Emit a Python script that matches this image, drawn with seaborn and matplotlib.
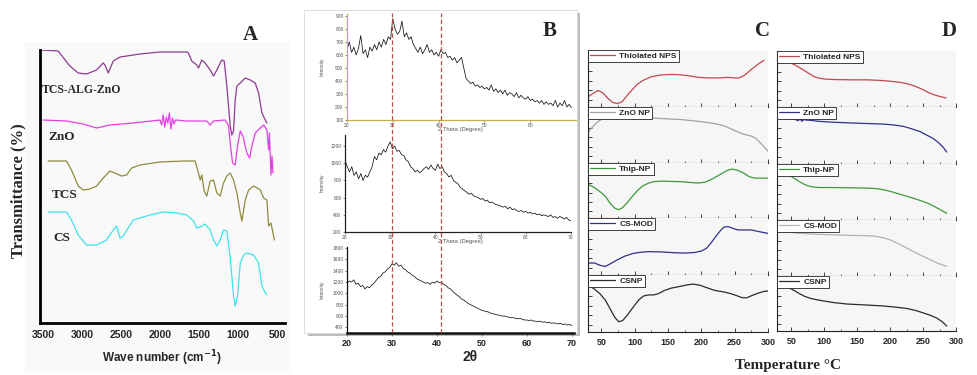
import numpy as np
import matplotlib
matplotlib.use("Agg")
import matplotlib.pyplot as plt
import seaborn as sns
from matplotlib.patches import Rectangle

# ---------------- DATA ----------------
# Panel A: FTIR (wave number cm-1, transmittance a.u. with offsets)
WN_TCS_ALG_ZNO = [3530, 3307, 3157, 3050, 2943, 2814, 2729, 2707, 2664, 2600, 2514, 2257, 2000, 1657, 1636, 1593,
                  1529, 1507, 1464, 1421, 1357, 1314, 1271, 1229, 1207, 1177, 1143, 1100, 1079, 1057, 1036, 1014,
                  971, 907, 843, 779, 736, 693, 650, 629]
T_TCS_ALG_ZNO = [273, 272, 257, 250, 249, 253, 260, 258, 250, 262, 266, 269, 271, 271, 270, 262,
                 258, 255, 263, 260, 253, 247, 253, 260, 263, 262, 237, 197, 188, 192, 223, 237,
                 240, 245, 243, 240, 230, 210, 203, 200]
WN_ZNO = [3500, 3200, 2986, 2814, 2643, 2343, 2000, 1980, 1960, 1940, 1920, 1900, 1880, 1860, 1840, 1820, 1800,
          1657, 1400, 1357, 1314, 1164, 1121, 1100, 1070, 1036, 1006, 971, 937, 886, 851, 821, 779, 714, 671,
          629, 607, 597, 577, 564, 551]
T_ZNO = [203, 202, 199, 195, 198, 200, 203, 198, 208, 196, 206, 200, 210, 194, 205, 199, 203,
         202, 202, 198, 202, 203, 197, 180, 160, 158, 177, 192, 187, 170, 165, 177, 190, 195, 198,
         193, 173, 190, 148, 167, 150]
WN_TCS = [3436, 3200, 3136, 3050, 2986, 2900, 2814, 2729, 2643, 2579, 2493, 2429, 2364, 2257, 2000, 1700, 1550,
          1507, 1486, 1464, 1434, 1400, 1357, 1314, 1271, 1229, 1186, 1143, 1100, 1057, 1014, 971, 950, 907,
          864, 800, 714, 671, 629, 607, 577, 551, 534]
T_TCS = [162, 162, 153, 137, 133, 134, 137, 145, 152, 150, 147, 148, 155, 158, 161, 162, 162,
         150, 143, 148, 132, 127, 142, 143, 130, 127, 140, 147, 150, 143, 130, 110, 102, 123,
         133, 137, 133, 125, 123, 97, 100, 90, 83]
WN_CS = [3436, 3200, 3136, 3050, 2943, 2814, 2686, 2600, 2557, 2514, 2471, 2450, 2343, 2129, 1957, 1786, 1657,
         1571, 1529, 1486, 1421, 1357, 1314, 1271, 1229, 1186, 1143, 1100, 1057, 1036, 1006, 971, 929, 886,
         800, 736, 693, 650, 629]
T_CS = [111, 111, 103, 88, 78, 78, 83, 93, 97, 85, 87, 90, 103, 108, 111, 110, 108,
        102, 95, 96, 99, 93, 83, 77, 83, 93, 92, 65, 27, 17, 27, 60, 68, 70,
        68, 60, 37, 30, 28]
WN_TICKS = [3500, 3000, 2500, 2000, 1500, 1000, 500]

# Panel B: XRD (2 theta, intensity)
TWO_THETA = [20.0, 20.5, 21.0, 21.5, 22.0, 22.5, 23.0, 23.5, 24.0, 24.5,
             25.0, 25.5, 26.0, 26.5, 27.0, 27.5, 28.0, 28.5, 29.0, 29.5,
             30.0, 30.5, 31.0, 31.5, 32.0, 32.5, 33.0, 33.5, 34.0, 34.5,
             35.0, 35.5, 36.0, 36.5, 37.0, 37.5, 38.0, 38.5, 39.0, 39.5,
             40.0, 40.5, 41.0, 41.5, 42.0, 42.5, 43.0, 43.5, 44.0, 44.5,
             45.0, 45.5, 46.0, 46.5, 47.0, 47.5, 48.0, 48.5, 49.0, 49.5,
             50.0, 50.5, 51.0, 51.5, 52.0, 52.5, 53.0, 53.5, 54.0, 54.5,
             55.0, 55.5, 56.0, 56.5, 57.0, 57.5, 58.0, 58.5, 59.0, 59.5,
             60.0, 60.5, 61.0, 61.5, 62.0, 62.5, 63.0, 63.5, 64.0, 64.5,
             65.0, 65.5, 66.0, 66.5, 67.0, 67.5, 68.0, 68.5, 69.0, 69.5,
             70.0]
XRD_TOP = [640, 700, 620, 660, 600, 650, 750, 610, 640, 580,
           660, 630, 680, 640, 700, 660, 720, 680, 740, 720,
           880, 800, 760, 780, 860, 740, 770, 720, 740, 680,
           650, 620, 660, 610, 640, 680, 620, 640, 600, 620,
           590, 640, 610, 620, 580, 590, 560, 580, 540, 560,
           580, 500, 420, 400, 380, 390, 360, 370, 350, 360,
           340, 350, 330, 370, 320, 340, 310, 330, 300, 330,
           290, 310, 300, 280, 310, 270, 290, 270, 260, 280,
           250, 260, 240, 250, 230, 250, 220, 240, 220, 230,
           210, 250, 200, 230, 210, 250, 200, 220, 195]
XRD_MID = [1040, 960, 900, 960, 860, 900, 820, 880, 800, 860,
           840, 900, 960, 1080, 1040, 1120, 1100, 1160, 1130, 1200,
           1250, 1170, 1200, 1140, 1150, 1100, 1090, 1040, 1020, 960,
           940, 900, 920, 890, 910, 940, 960, 930, 980, 940,
           920, 990, 940, 960, 900, 880, 840, 860, 800, 780,
           760, 720, 700, 680, 660, 640, 650, 620, 610, 600,
           580, 590, 560, 570, 540, 550, 530, 520, 510, 500,
           490, 500, 470, 490, 460, 470, 450, 440, 450, 430,
           440, 420, 430, 410, 420, 400, 410, 390, 400, 390,
           380, 400, 370, 380, 360, 380, 370, 350, 370, 340,
           330]
XRD_BOT = [1180, 1220, 1200, 1240, 1160, 1180, 1120, 1140, 1080, 1120,
           1100, 1150, 1180, 1230, 1280, 1300, 1360, 1380, 1430, 1460,
           1520, 1500, 1540, 1480, 1500, 1440, 1420, 1380, 1360, 1320,
           1300, 1260, 1240, 1220, 1200, 1180, 1190, 1160, 1200, 1180,
           1220, 1190, 1200, 1160, 1140, 1100, 1080, 1040, 1000, 970,
           940, 900, 880, 850, 820, 800, 780, 760, 740, 720,
           700, 690, 680, 670, 650, 640, 630, 620, 610, 600,
           600, 590, 580, 570, 570, 560, 550, 560, 540, 530,
           530, 520, 530, 510, 510, 500, 510, 490, 500, 480,
           490, 470, 480, 470, 460, 470, 450, 460, 440, 450,
           430]
XRD_PEAKS = [30, 41]
THETA_TICKS = [20, 30, 40, 50, 60, 70]

# Panel C: DSC (temperature, heat flow a.u.)
C_LABELS = ["Thiolated NPS", "ZnO NP", "Thip-NP", "CS-MOD", "CSNP"]
C1_T = [30, 38, 45, 52, 60, 67, 74, 81, 88, 96, 104, 113, 125, 138, 150, 163, 180, 195, 210, 225, 240, 250, 257, 265, 275, 285, 294]
C1_V = [18, 24, 29, 25, 15, 8, 6, 9, 19, 30, 40, 47, 53, 56, 57, 57, 55, 52, 51, 51, 52, 51, 51, 56, 66, 75, 82]
C2_T = [31, 38, 45, 52, 60, 70, 85, 100, 120, 145, 170, 195, 220, 235, 250, 262, 275, 282, 290, 300]
C2_V = [56, 66, 74, 79, 81, 82.5, 83.5, 82.5, 81, 79, 77.5, 74.5, 70.5, 66, 58, 52, 48, 44, 34, 21]
C3_T = [31, 40, 50, 57, 63, 70, 76, 82, 89, 97, 105, 113, 120, 128, 140, 155, 170, 185, 195, 205, 215, 228, 238, 246, 254, 263, 272, 280, 290, 300]
C3_V = [61, 55, 46, 38, 27, 18, 15, 19, 28, 40, 51, 59, 63, 66, 67, 66.5, 66, 64.5, 63.5, 65, 70, 79, 86, 89, 87, 82, 75, 72.5, 72.5, 72.5]
C4_T = [31, 40, 48, 56, 64, 73, 85, 98, 110, 120, 140, 160, 175, 190, 200, 208, 215, 222, 228, 234, 240, 247, 255, 265, 275, 287, 300]
C4_V = [21, 21, 17, 15, 20, 26, 33, 38, 40, 41, 40.5, 39, 38.5, 39.5, 42, 47, 57, 68, 77, 84, 85, 82, 79, 79, 79, 76, 73]
C5_T = [31, 40, 48, 56, 63, 70, 76, 82, 90, 98, 106, 113, 120, 128, 135, 145, 155, 168, 180, 188, 198, 210, 220, 235, 245, 255, 262, 268, 276, 285, 293, 300]
C5_V = [82, 75, 67, 56, 41, 26, 18, 20, 31, 44, 56, 63, 65, 65, 67, 73, 77, 80, 83, 84, 82, 77, 73, 70, 67, 63, 60, 60, 64, 68, 71, 72]

# Panel D: TGA (temperature, weight a.u.)
D1_T = [45, 52, 60, 67, 75, 83, 90, 100, 115, 140, 165, 185, 200, 215, 228, 238, 248, 258, 266, 275, 285]
D1_V = [80, 77, 72, 67, 61, 55, 52, 50, 49, 48.5, 48.5, 47.5, 46, 44, 41, 37, 32, 26, 22, 19, 16]
D2_T = [30, 40, 50, 56, 60, 63, 66, 69, 73, 80, 90, 110, 140, 165, 190, 205, 220, 232, 245, 255, 265, 273, 280, 286]
D2_V = [81, 80, 79, 78, 76, 79, 75, 78, 77, 76.5, 75, 73.5, 72, 71, 70, 68.5, 66, 62, 57, 51, 45, 38, 30, 21]
D3_T = [45, 52, 60, 67, 75, 83, 91, 110, 140, 165, 180, 192, 202, 215, 235, 250, 260, 272, 286]
D3_V = [80, 76, 70, 65, 61, 59, 58, 58, 57.5, 57, 56, 53.5, 50.5, 46, 39, 33, 28.5, 21, 12]
D4_T = [28, 38, 45, 55, 66, 90, 115, 140, 165, 178, 190, 200, 212, 225, 238, 250, 262, 274, 286]
D4_V = [82, 81, 79, 77, 76, 74.5, 73.5, 72.5, 72, 71, 68, 64.5, 58, 50, 42, 35, 28.5, 22, 17]
D5_T = [28, 38, 47, 55, 62, 70, 80, 90, 102, 115, 135, 163, 190, 211, 225, 238, 250, 260, 270, 279, 286]
D5_V = [82, 81, 78, 73, 68, 63, 59, 56.5, 54, 51.5, 49, 47.3, 45.5, 43, 41, 37.5, 33, 29, 24, 17, 9]
TEMP_TICKS = [50, 100, 150, 200, 250, 300]
TEMP_MINOR = [75, 125, 175, 225, 275]

# ---------------- FIGURE ----------------
sns.set_theme(style="ticks")
plt.rcParams['font.family'] = ['Liberation Sans', 'DejaVu Sans']
SERIF = ['Liberation Serif', 'DejaVu Serif']

W, H = 977, 375
fig = plt.figure(figsize=(W / 100, H / 100), dpi=100)
fig.patch.set_facecolor('white')


def add_ax(x0, y0, x1, y1, **kw):
    ax = fig.add_axes([x0 / W, 1 - y1 / H, (x1 - x0) / W, (y1 - y0) / H], **kw)
    ax.set_zorder(2)
    return ax


def ftext(x, y, s, **kw):
    kw.setdefault('ha', 'center')
    kw.setdefault('va', 'center')
    return fig.text(x / W, 1 - y / H, s, **kw)


def frect(x0, y0, x1, y1, z, **kw):
    r = Rectangle((x0 / W, 1 - y1 / H), (x1 - x0) / W, (y1 - y0) / H, transform=fig.transFigure,
                  zorder=z, **kw)
    fig.patches.append(r)
    return r


# ---------- Panel A ----------
frect(25, 42, 290, 372, -5, facecolor='#f9f9f9', edgecolor='none')
axA = add_ax(40, 50, 285, 323)
axA.set_facecolor('none')
for wn, tr, col in [(WN_TCS_ALG_ZNO, T_TCS_ALG_ZNO, '#8e3b8e'),
                    (WN_ZNO, T_ZNO, '#e43fe4'),
                    (WN_TCS, T_TCS, '#8f8b3c'),
                    (WN_CS, T_CS, '#3fe3ea')]:
    sns.lineplot(x=wn, y=tr, ax=axA, color=col, lw=0.9, estimator=None, sort=False)
axA.set_xlim(3540, 397)
axA.set_ylim(0, 273)
axA.set_yticks([])
axA.set_xticks(WN_TICKS)
axA.set_xticklabels([str(v) for v in WN_TICKS], fontweight='bold', fontsize=7.5)
axA.tick_params(axis='x', length=0, pad=5)
for s in ['top', 'right']:
    axA.spines[s].set_visible(False)
for s in ['left', 'bottom']:
    axA.spines[s].set_color('black')
    axA.spines[s].set_linewidth(2)
axA.set_xlabel('')
axA.set_ylabel('')

ftext(250, 35, 'A', family=SERIF, fontweight='bold', fontsize=15)
ftext(18, 191, 'Transmittance (%)', family=SERIF, fontweight='bold', fontsize=12, rotation=90)
ftext(42, 90, 'TCS-ALG-ZnO', family=SERIF, fontweight='bold', fontsize=8.5, ha='left')
ftext(48, 137, 'ZnO', family=SERIF, fontweight='bold', fontsize=9.5, ha='left')
ftext(52, 195, 'TCS', family=SERIF, fontweight='bold', fontsize=9.5, ha='left')
ftext(53, 238, 'CS', family=SERIF, fontweight='bold', fontsize=9.5, ha='left')
ftext(162, 358, r'Wave number (cm$^{\mathbf{-1}}$)', fontweight='bold', fontsize=8.5)

# ---------- Panel B ----------
frect(308, 13, 580, 336, -5, facecolor='#bdbdbd', edgecolor='none')
frect(304, 10, 577, 333, -4, facecolor='white', edgecolor='#d6d6d6', lw=0.6)


def style_xrd(ax, xlim, ylim, yticks, spine_color):
    ax.set_xlim(*xlim)
    ax.set_ylim(*ylim)
    ax.set_facecolor('none')
    for s in ['top', 'right']:
        ax.spines[s].set_visible(False)
    for s in ['left', 'bottom']:
        ax.spines[s].set_color(spine_color)
        ax.spines[s].set_linewidth(0.9)
    ax.set_yticks(yticks)
    ax.set_xticks(THETA_TICKS)
    ax.tick_params(axis='both', labelsize=3.5, length=1.5, width=0.5, pad=1, colors='#555555')
    ax.set_xlabel('')
    ax.set_ylabel('')


axB1 = add_ax(347, 14, 576, 120)
sns.lineplot(x=TWO_THETA[:len(XRD_TOP)], y=XRD_TOP, ax=axB1, color='#111111', lw=0.55, estimator=None, sort=False)
style_xrd(axB1, (20, 69.5), (100, 915), list(range(100, 901, 100)), '#c9b13a')
axB1.set_xticks(THETA_TICKS[:-1])

axB2 = add_ax(345, 135, 571, 232)
sns.lineplot(x=TWO_THETA, y=XRD_MID, ax=axB2, color='#111111', lw=0.55, estimator=None, sort=False)
style_xrd(axB2, (20, 70), (200, 1330), list(range(200, 1201, 200)), '#222222')

axB3 = add_ax(347, 247, 574, 333)
sns.lineplot(x=TWO_THETA, y=XRD_BOT, ax=axB3, color='#111111', lw=0.55, estimator=None, sort=False)
style_xrd(axB3, (20, 70.5), (300, 1820), list(range(400, 1801, 200)), '#111111')
axB3.spines['bottom'].set_linewidth(1.8)
axB3.set_xticklabels([str(v) for v in THETA_TICKS], fontweight='bold', fontsize=6.5, color='#222222')
axB3.tick_params(axis='x', length=2, pad=2)

axBo = add_ax(347, 13, 574, 333)
axBo.set_zorder(3)
axBo.set_xlim(20, 70.5)
axBo.set_ylim(0, 1)
axBo.axis('off')
for p in XRD_PEAKS:
    axBo.axvline(p, color='#b4504a', ls=(0, (3.5, 2)), lw=0.9)

for yy in (67, 183, 290):
    ftext(322, yy, 'Intensity', fontsize=3.5, rotation=90, color='#555555')
ftext(460, 130, '2 Theta (Degree)', fontsize=4.2, color='#555555')
ftext(460, 242, '2 Theta (Degree)', fontsize=4.2, color='#555555')
ftext(550, 31, 'B', family=SERIF, fontweight='bold', fontsize=15)
ftext(470, 357, '2θ', fontweight='bold', fontsize=10)

# ---------- Panels C and D ----------
RED = '#c2474f'
C_SERIES = [(C1_T, C1_V, RED), (C2_T, C2_V, '#a2a2a2'), (C3_T, C3_V, '#3c9a3c'),
            (C4_T, C4_V, '#2f3185'), (C5_T, C5_V, '#2b2b2b')]
D_SERIES = [(D1_T, D1_V, RED), (D2_T, D2_V, '#2f3190'), (D3_T, D3_V, '#3c9a3c'),
            (D4_T, D4_V, '#b2b2b2'), (D5_T, D5_V, '#2b2b2b')]


def stack(x0, x1, ybounds, xlim, series, hlen):
    for i, ((xs, ys, col), lab) in enumerate(zip(series, C_LABELS)):
        ax = add_ax(x0, ybounds[i], x1, ybounds[i + 1])
        ax.set_facecolor('#f6f6f6')
        sns.lineplot(x=xs, y=ys, ax=ax, color=col, lw=0.9, estimator=None, sort=False, label=lab)
        ax.set_xlim(*xlim)
        ax.set_ylim(0, 100)
        for s in ['top', 'right']:
            ax.spines[s].set_visible(False)
        for s in ['left', 'bottom']:
            ax.spines[s].set_color('#222222')
            ax.spines[s].set_linewidth(0.8)
        ax.set_yticks([12, 29, 46, 63, 80])
        ax.set_xticks(TEMP_TICKS)
        ax.set_xticks(TEMP_MINOR, minor=True)
        ax.tick_params(axis='both', which='major', direction='in', length=3, width=0.6, labelleft=False)
        ax.tick_params(axis='x', which='minor', direction='in', length=1.8, width=0.5)
        if i == len(series) - 1:
            ax.set_xticklabels([str(v) for v in TEMP_TICKS], fontweight='bold', fontsize=6.5)
            ax.tick_params(axis='x', pad=4)
        else:
            ax.tick_params(axis='x', labelbottom=False)
        ax.set_xlabel('')
        ax.set_ylabel('')
        leg = ax.legend(loc='upper left', bbox_to_anchor=(0, 1), borderaxespad=0, frameon=True,
                        fancybox=False, framealpha=1, facecolor='white', edgecolor='#222222',
                        prop={'weight': 'bold', 'size': 6}, handlelength=hlen, handletextpad=0.5,
                        borderpad=0.25)
        leg.get_frame().set_linewidth(0.6)


stack(588, 768, [50, 107, 163, 218, 275, 332], (30, 300), C_SERIES, 3.0)
stack(777, 956, [51, 107, 164, 220, 276, 331], (28, 288), D_SERIES, 2.4)

ftext(763, 31, 'C', family=SERIF, fontweight='bold', fontsize=15)
ftext(949, 31, 'D', family=SERIF, fontweight='bold', fontsize=15)
ftext(788, 366, 'Temperature \u00b0C', family=SERIF, fontweight='bold', fontsize=11)

fig.savefig('out.png', dpi=100, facecolor='white')
